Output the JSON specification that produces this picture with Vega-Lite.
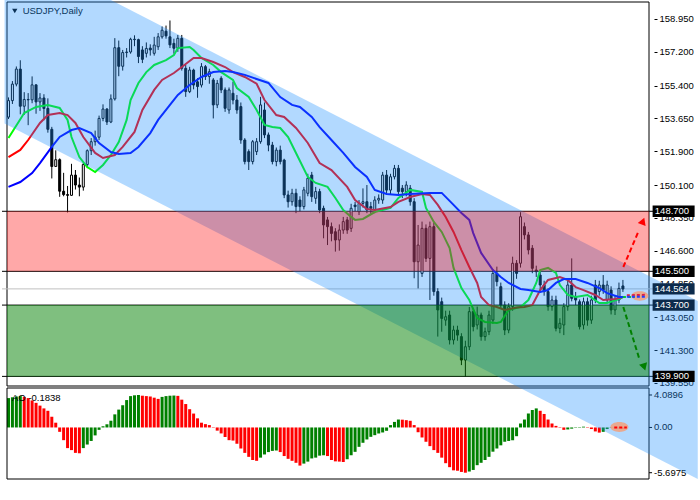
{
"$schema":"https://vega.github.io/schema/vega-lite/v6.json",
"width":652,"height":477,
"autosize":{"type":"none"},
"padding":{"left":2,"top":2,"right":46,"bottom":21},
"background":"white",
"config":{"view":{"stroke":null},"font":"Liberation Sans"},
"resolve":{"scale":{"y":"independent","color":"independent"}},
"datasets":{
"candles":[
{"i":0,"o":153.72,"h":154.77,"l":153.62,"c":154.60},
{"i":1,"o":154.60,"h":155.64,"l":154.42,"c":155.48},
{"i":2,"o":155.48,"h":156.42,"l":155.36,"c":156.28},
{"i":3,"o":156.28,"h":156.75,"l":153.87,"c":154.30},
{"i":4,"o":154.30,"h":155.05,"l":153.84,"c":154.66},
{"i":5,"o":154.66,"h":155.00,"l":153.29,"c":154.64},
{"i":6,"o":154.64,"h":155.89,"l":154.46,"c":155.44},
{"i":7,"o":155.44,"h":155.46,"l":153.90,"c":154.53},
{"i":8,"o":154.53,"h":155.00,"l":154.05,"c":154.74},
{"i":9,"o":154.74,"h":154.94,"l":153.55,"c":154.18},
{"i":10,"o":154.18,"h":154.72,"l":152.89,"c":153.07},
{"i":11,"o":153.07,"h":153.20,"l":150.45,"c":151.09},
{"i":12,"o":151.09,"h":151.95,"l":151.08,"c":151.45},
{"i":13,"o":151.45,"h":151.52,"l":149.47,"c":149.77},
{"i":14,"o":149.77,"h":150.75,"l":149.50,"c":149.59},
{"i":15,"o":149.59,"h":150.05,"l":148.64,"c":149.55},
{"i":16,"o":149.55,"h":151.23,"l":149.52,"c":150.63},
{"i":17,"o":150.63,"h":150.90,"l":149.86,"c":150.10},
{"i":18,"o":150.10,"h":150.50,"l":149.50,"c":149.99},
{"i":19,"o":149.99,"h":151.30,"l":149.80,"c":151.19},
{"i":20,"o":151.19,"h":152.00,"l":151.00,"c":151.93},
{"i":21,"o":151.93,"h":152.60,"l":151.70,"c":152.41},
{"i":22,"o":152.41,"h":153.00,"l":152.20,"c":152.65},
{"i":23,"o":152.65,"h":153.80,"l":152.50,"c":153.65},
{"i":24,"o":153.65,"h":154.40,"l":153.50,"c":154.15},
{"i":25,"o":154.15,"h":154.20,"l":153.30,"c":153.46},
{"i":26,"o":153.46,"h":154.93,"l":153.40,"c":154.69},
{"i":27,"o":154.69,"h":157.93,"l":154.60,"c":157.42},
{"i":28,"o":157.42,"h":157.80,"l":155.90,"c":156.43},
{"i":29,"o":156.43,"h":157.30,"l":156.20,"c":157.16},
{"i":30,"o":157.16,"h":157.40,"l":156.90,"c":157.19},
{"i":31,"o":157.19,"h":157.95,"l":157.10,"c":157.87},
{"i":32,"o":157.87,"h":158.08,"l":157.50,"c":157.85},
{"i":33,"o":157.85,"h":157.90,"l":156.60,"c":156.95},
{"i":34,"o":157.30,"h":157.50,"l":156.60,"c":156.80},
{"i":35,"o":157.12,"h":157.70,"l":156.90,"c":157.38},
{"i":36,"o":157.40,"h":157.60,"l":157.00,"c":157.30},
{"i":37,"o":157.12,"h":158.00,"l":157.00,"c":157.56},
{"i":38,"o":157.47,"h":158.20,"l":157.30,"c":158.00},
{"i":39,"o":158.00,"h":158.55,"l":157.90,"c":158.35},
{"i":40,"o":158.30,"h":158.60,"l":157.90,"c":158.05},
{"i":41,"o":158.00,"h":158.87,"l":157.40,"c":157.57},
{"i":42,"o":157.65,"h":157.90,"l":157.10,"c":157.39},
{"i":43,"o":157.39,"h":158.10,"l":157.20,"c":157.92},
{"i":44,"o":157.92,"h":158.10,"l":156.20,"c":156.32},
{"i":45,"o":156.32,"h":156.50,"l":154.80,"c":155.08},
{"i":46,"o":155.08,"h":156.40,"l":155.00,"c":156.23},
{"i":47,"o":156.23,"h":156.30,"l":155.20,"c":155.43},
{"i":48,"o":155.60,"h":155.80,"l":154.75,"c":155.35},
{"i":49,"o":155.43,"h":156.60,"l":155.30,"c":156.41},
{"i":50,"o":156.41,"h":156.50,"l":155.70,"c":155.88},
{"i":51,"o":155.88,"h":156.30,"l":155.50,"c":156.14},
{"i":52,"o":155.70,"h":155.80,"l":153.65,"c":154.37},
{"i":53,"o":154.37,"h":155.70,"l":154.20,"c":155.52},
{"i":54,"o":155.79,"h":155.90,"l":155.00,"c":155.17},
{"i":55,"o":155.17,"h":155.30,"l":154.00,"c":154.19},
{"i":56,"o":154.10,"h":155.30,"l":153.90,"c":155.17},
{"i":57,"o":154.99,"h":155.60,"l":154.40,"c":154.63},
{"i":58,"o":154.63,"h":154.90,"l":153.90,"c":154.10},
{"i":59,"o":154.28,"h":154.50,"l":152.30,"c":152.50},
{"i":60,"o":152.50,"h":152.60,"l":151.20,"c":151.35},
{"i":61,"o":151.88,"h":152.00,"l":150.90,"c":151.35},
{"i":62,"o":151.35,"h":152.50,"l":151.20,"c":152.41},
{"i":63,"o":151.88,"h":152.60,"l":151.70,"c":152.41},
{"i":64,"o":152.41,"h":154.80,"l":152.30,"c":154.37},
{"i":65,"o":154.10,"h":154.50,"l":152.60,"c":152.77},
{"i":66,"o":152.77,"h":152.90,"l":151.90,"c":152.23},
{"i":67,"o":152.23,"h":152.40,"l":151.20,"c":151.35},
{"i":68,"o":151.35,"h":152.10,"l":151.10,"c":151.96},
{"i":69,"o":151.96,"h":152.20,"l":151.20,"c":151.35},
{"i":70,"o":151.43,"h":151.50,"l":149.40,"c":149.57},
{"i":71,"o":149.57,"h":149.80,"l":148.90,"c":149.21},
{"i":72,"o":149.21,"h":149.90,"l":149.00,"c":149.66},
{"i":73,"o":149.66,"h":149.90,"l":148.60,"c":148.95},
{"i":74,"o":149.30,"h":149.50,"l":148.70,"c":148.95},
{"i":75,"o":148.95,"h":150.00,"l":148.80,"c":149.84},
{"i":76,"o":149.66,"h":150.70,"l":149.50,"c":150.46},
{"i":77,"o":150.63,"h":150.80,"l":149.20,"c":149.48},
{"i":78,"o":149.39,"h":150.00,"l":149.10,"c":149.75},
{"i":79,"o":149.75,"h":149.90,"l":148.60,"c":148.77},
{"i":80,"o":148.86,"h":149.00,"l":147.26,"c":147.97},
{"i":81,"o":148.24,"h":148.40,"l":146.90,"c":147.88},
{"i":82,"o":147.88,"h":148.10,"l":147.10,"c":147.52},
{"i":83,"o":147.61,"h":147.80,"l":146.55,"c":147.17},
{"i":84,"o":147.17,"h":148.00,"l":146.60,"c":147.70},
{"i":85,"o":147.70,"h":148.40,"l":147.50,"c":148.15},
{"i":86,"o":148.24,"h":148.40,"l":147.50,"c":147.70},
{"i":87,"o":147.79,"h":149.10,"l":147.60,"c":148.86},
{"i":88,"o":149.03,"h":149.20,"l":148.70,"c":148.95},
{"i":89,"o":148.68,"h":149.30,"l":148.50,"c":149.12},
{"i":90,"o":149.12,"h":149.92,"l":148.90,"c":149.21},
{"i":91,"o":149.21,"h":150.10,"l":148.60,"c":148.77},
{"i":92,"o":148.95,"h":149.20,"l":148.50,"c":148.86},
{"i":93,"o":148.77,"h":149.50,"l":148.60,"c":149.30},
{"i":94,"o":149.30,"h":149.60,"l":149.10,"c":149.39},
{"i":95,"o":149.30,"h":150.80,"l":149.10,"c":150.63},
{"i":96,"o":150.63,"h":150.90,"l":149.60,"c":149.83},
{"i":97,"o":149.83,"h":150.70,"l":149.60,"c":150.54},
{"i":98,"o":150.54,"h":151.17,"l":150.40,"c":150.99},
{"i":99,"o":150.99,"h":151.17,"l":149.60,"c":149.75},
{"i":100,"o":149.93,"h":150.10,"l":149.40,"c":149.75},
{"i":101,"o":149.75,"h":150.30,"l":149.50,"c":150.10},
{"i":102,"o":149.93,"h":150.10,"l":149.00,"c":149.21},
{"i":103,"o":149.21,"h":149.40,"l":145.13,"c":146.01},
{"i":104,"o":146.01,"h":147.97,"l":144.59,"c":146.90},
{"i":105,"o":145.39,"h":148.15,"l":145.20,"c":147.79},
{"i":106,"o":147.79,"h":148.00,"l":146.00,"c":146.19},
{"i":107,"o":146.19,"h":148.15,"l":143.97,"c":147.88},
{"i":108,"o":147.88,"h":148.10,"l":144.20,"c":144.42},
{"i":109,"o":144.42,"h":144.60,"l":142.02,"c":143.44},
{"i":110,"o":143.88,"h":144.10,"l":142.28,"c":142.99},
{"i":111,"o":142.90,"h":143.40,"l":142.60,"c":143.08},
{"i":112,"o":143.17,"h":143.40,"l":141.60,"c":141.84},
{"i":113,"o":141.84,"h":142.60,"l":141.60,"c":142.37},
{"i":114,"o":142.37,"h":142.60,"l":141.80,"c":142.10},
{"i":115,"o":142.02,"h":142.20,"l":140.50,"c":140.77},
{"i":116,"o":140.77,"h":141.80,"l":139.89,"c":141.48},
{"i":117,"o":141.48,"h":143.60,"l":141.30,"c":143.35},
{"i":118,"o":143.35,"h":143.50,"l":142.30,"c":142.55},
{"i":119,"o":142.64,"h":143.62,"l":142.40,"c":143.17},
{"i":120,"o":143.17,"h":143.30,"l":141.80,"c":142.02},
{"i":121,"o":142.02,"h":142.50,"l":141.80,"c":142.28},
{"i":122,"o":142.28,"h":143.40,"l":142.10,"c":143.17},
{"i":123,"o":142.90,"h":145.60,"l":142.70,"c":145.39},
{"i":124,"o":145.39,"h":145.75,"l":144.70,"c":144.95},
{"i":125,"o":144.68,"h":144.90,"l":143.50,"c":143.70},
{"i":126,"o":143.70,"h":143.90,"l":142.10,"c":142.37},
{"i":127,"o":142.37,"h":143.80,"l":142.20,"c":143.62},
{"i":128,"o":143.62,"h":146.28,"l":143.40,"c":145.93},
{"i":129,"o":145.93,"h":146.10,"l":145.10,"c":145.39},
{"i":130,"o":145.93,"h":148.65,"l":145.70,"c":148.41},
{"i":131,"o":147.88,"h":148.10,"l":147.20,"c":147.44},
{"i":132,"o":147.44,"h":147.60,"l":146.40,"c":146.64},
{"i":133,"o":146.73,"h":146.90,"l":145.40,"c":145.66},
{"i":134,"o":145.57,"h":145.80,"l":145.20,"c":145.48},
{"i":135,"o":145.30,"h":145.50,"l":144.50,"c":144.77},
{"i":136,"o":144.77,"h":145.00,"l":144.20,"c":144.42},
{"i":137,"o":144.42,"h":144.60,"l":143.40,"c":143.62},
{"i":138,"o":143.62,"h":144.20,"l":143.40,"c":143.97},
{"i":139,"o":143.97,"h":144.20,"l":142.30,"c":142.46},
{"i":140,"o":142.46,"h":143.00,"l":142.20,"c":142.73},
{"i":141,"o":142.64,"h":143.80,"l":142.10,"c":143.62},
{"i":142,"o":143.62,"h":145.00,"l":143.40,"c":144.77},
{"i":143,"o":144.77,"h":146.19,"l":143.90,"c":144.06},
{"i":144,"o":144.15,"h":144.40,"l":143.70,"c":143.97},
{"i":145,"o":143.88,"h":144.00,"l":142.40,"c":142.55},
{"i":146,"o":142.64,"h":144.10,"l":142.40,"c":143.88},
{"i":147,"o":143.88,"h":144.10,"l":142.60,"c":142.90},
{"i":148,"o":142.90,"h":144.20,"l":142.70,"c":143.97},
{"i":149,"o":144.77,"h":145.04,"l":143.80,"c":143.97},
{"i":150,"o":144.42,"h":145.00,"l":144.20,"c":144.77},
{"i":151,"o":144.77,"h":145.30,"l":144.30,"c":144.50},
{"i":152,"o":143.97,"h":145.00,"l":143.80,"c":144.77},
{"i":153,"o":144.50,"h":144.70,"l":143.20,"c":143.44},
{"i":154,"o":143.44,"h":144.20,"l":143.17,"c":143.97},
{"i":155,"o":143.97,"h":144.90,"l":143.80,"c":144.59},
{"i":156,"o":144.72,"h":145.04,"l":144.40,"c":144.56}
],
"ma":[
{"ma":"fast","i":0,"p":152.61},{"ma":"fast","i":4,"p":153.94},{"ma":"fast","i":7,"p":154.26},{"ma":"fast","i":10,"p":154.37},{"ma":"fast","i":13,"p":154.21},{"ma":"fast","i":15,"p":153.57},{"ma":"fast","i":16,"p":152.66},{"ma":"fast","i":18,"p":151.59},{"ma":"fast","i":20,"p":151.06},{"ma":"fast","i":22,"p":150.79},{"ma":"fast","i":24,"p":151.17},{"ma":"fast","i":26,"p":151.70},{"ma":"fast","i":28,"p":152.39},{"ma":"fast","i":30,"p":153.57},{"ma":"fast","i":31,"p":154.63},{"ma":"fast","i":33,"p":155.54},{"ma":"fast","i":35,"p":156.12},{"ma":"fast","i":37,"p":156.50},{"ma":"fast","i":40,"p":156.76},{"ma":"fast","i":42,"p":157.03},{"ma":"fast","i":43,"p":157.40},{"ma":"fast","i":46,"p":157.46},{"ma":"fast","i":47,"p":157.30},{"ma":"fast","i":49,"p":156.87},{"ma":"fast","i":52,"p":156.50},{"ma":"fast","i":54,"p":156.12},{"ma":"fast","i":57,"p":155.70},{"ma":"fast","i":58,"p":155.27},{"ma":"fast","i":61,"p":154.79},{"ma":"fast","i":63,"p":154.10},{"ma":"fast","i":65,"p":153.30},{"ma":"fast","i":67,"p":153.19},{"ma":"fast","i":69,"p":153.14},{"ma":"fast","i":71,"p":152.66},{"ma":"fast","i":73,"p":151.81},{"ma":"fast","i":76,"p":150.53},{"ma":"fast","i":78,"p":150.21},{"ma":"fast","i":81,"p":150.00},{"ma":"fast","i":83,"p":149.41},{"ma":"fast","i":85,"p":148.77},{"ma":"fast","i":87,"p":148.40},{"ma":"fast","i":88,"p":148.24},{"ma":"fast","i":90,"p":148.29},{"ma":"fast","i":93,"p":148.66},{"ma":"fast","i":97,"p":148.88},{"ma":"fast","i":99,"p":149.41},{"ma":"fast","i":102,"p":149.84},{"ma":"fast","i":105,"p":149.73},{"ma":"fast","i":106,"p":148.88},{"ma":"fast","i":108,"p":148.13},{"ma":"fast","i":110,"p":147.60},{"ma":"fast","i":112,"p":146.74},{"ma":"fast","i":113,"p":145.68},{"ma":"fast","i":115,"p":144.61},{"ma":"fast","i":117,"p":143.97},{"ma":"fast","i":119,"p":143.01},{"ma":"fast","i":121,"p":142.80},{"ma":"fast","i":124,"p":142.75},{"ma":"fast","i":125,"p":142.80},{"ma":"fast","i":127,"p":143.44},{"ma":"fast","i":130,"p":143.60},{"ma":"fast","i":132,"p":143.97},{"ma":"fast","i":134,"p":144.88},{"ma":"fast","i":135,"p":145.57},{"ma":"fast","i":137,"p":145.68},{"ma":"fast","i":139,"p":145.41},{"ma":"fast","i":140,"p":144.77},{"ma":"fast","i":142,"p":144.24},{"ma":"fast","i":144,"p":144.13},{"ma":"fast","i":147,"p":144.24},{"ma":"fast","i":150,"p":143.81},{"ma":"fast","i":152,"p":143.81},{"ma":"fast","i":155,"p":144.02},{"ma":"fast","i":156,"p":144.13},
{"ma":"medium","i":0,"p":151.59},{"ma":"medium","i":3,"p":151.97},{"ma":"medium","i":5,"p":152.50},{"ma":"medium","i":8,"p":153.41},{"ma":"medium","i":10,"p":153.83},{"ma":"medium","i":13,"p":153.94},{"ma":"medium","i":15,"p":153.83},{"ma":"medium","i":17,"p":153.41},{"ma":"medium","i":19,"p":152.66},{"ma":"medium","i":22,"p":151.81},{"ma":"medium","i":24,"p":151.54},{"ma":"medium","i":27,"p":151.70},{"ma":"medium","i":29,"p":152.13},{"ma":"medium","i":32,"p":152.93},{"ma":"medium","i":34,"p":154.10},{"ma":"medium","i":37,"p":155.17},{"ma":"medium","i":39,"p":155.70},{"ma":"medium","i":42,"p":156.07},{"ma":"medium","i":44,"p":156.39},{"ma":"medium","i":47,"p":156.87},{"ma":"medium","i":49,"p":156.87},{"ma":"medium","i":52,"p":156.66},{"ma":"medium","i":55,"p":156.39},{"ma":"medium","i":57,"p":156.12},{"ma":"medium","i":60,"p":155.86},{"ma":"medium","i":63,"p":155.50},{"ma":"medium","i":65,"p":154.63},{"ma":"medium","i":68,"p":153.83},{"ma":"medium","i":70,"p":153.73},{"ma":"medium","i":73,"p":153.14},{"ma":"medium","i":76,"p":152.34},{"ma":"medium","i":79,"p":151.27},{"ma":"medium","i":82,"p":150.90},{"ma":"medium","i":86,"p":150.00},{"ma":"medium","i":88,"p":149.30},{"ma":"medium","i":91,"p":148.82},{"ma":"medium","i":93,"p":148.77},{"ma":"medium","i":97,"p":148.93},{"ma":"medium","i":99,"p":149.20},{"ma":"medium","i":102,"p":149.46},{"ma":"medium","i":105,"p":149.62},{"ma":"medium","i":107,"p":149.57},{"ma":"medium","i":109,"p":149.04},{"ma":"medium","i":111,"p":148.40},{"ma":"medium","i":113,"p":147.60},{"ma":"medium","i":115,"p":146.63},{"ma":"medium","i":117,"p":145.73},{"ma":"medium","i":119,"p":144.88},{"ma":"medium","i":120,"p":144.13},{"ma":"medium","i":122,"p":143.70},{"ma":"medium","i":124,"p":143.60},{"ma":"medium","i":126,"p":143.44},{"ma":"medium","i":129,"p":143.57},{"ma":"medium","i":131,"p":143.60},{"ma":"medium","i":133,"p":143.70},{"ma":"medium","i":135,"p":144.50},{"ma":"medium","i":137,"p":145.04},{"ma":"medium","i":140,"p":145.20},{"ma":"medium","i":142,"p":145.04},{"ma":"medium","i":144,"p":144.66},{"ma":"medium","i":146,"p":144.50},{"ma":"medium","i":149,"p":144.24},{"ma":"medium","i":151,"p":143.97},{"ma":"medium","i":154,"p":144.02},{"ma":"medium","i":156,"p":144.13},
{"ma":"slow","i":0,"p":150.00},{"ma":"slow","i":3,"p":150.26},{"ma":"slow","i":6,"p":150.74},{"ma":"slow","i":8,"p":151.27},{"ma":"slow","i":11,"p":152.13},{"ma":"slow","i":13,"p":152.66},{"ma":"slow","i":16,"p":153.03},{"ma":"slow","i":18,"p":153.14},{"ma":"slow","i":21,"p":152.87},{"ma":"slow","i":23,"p":152.34},{"ma":"slow","i":26,"p":151.86},{"ma":"slow","i":28,"p":151.75},{"ma":"slow","i":31,"p":151.81},{"ma":"slow","i":33,"p":152.13},{"ma":"slow","i":36,"p":152.87},{"ma":"slow","i":38,"p":153.57},{"ma":"slow","i":41,"p":154.37},{"ma":"slow","i":43,"p":154.90},{"ma":"slow","i":46,"p":155.43},{"ma":"slow","i":49,"p":155.86},{"ma":"slow","i":52,"p":156.12},{"ma":"slow","i":55,"p":156.18},{"ma":"slow","i":57,"p":156.12},{"ma":"slow","i":60,"p":155.97},{"ma":"slow","i":63,"p":155.75},{"ma":"slow","i":66,"p":155.54},{"ma":"slow","i":69,"p":154.79},{"ma":"slow","i":72,"p":154.37},{"ma":"slow","i":74,"p":154.26},{"ma":"slow","i":77,"p":153.73},{"ma":"slow","i":79,"p":153.19},{"ma":"slow","i":82,"p":152.50},{"ma":"slow","i":85,"p":151.81},{"ma":"slow","i":88,"p":151.06},{"ma":"slow","i":91,"p":150.53},{"ma":"slow","i":93,"p":149.84},{"ma":"slow","i":96,"p":149.62},{"ma":"slow","i":99,"p":149.57},{"ma":"slow","i":102,"p":149.62},{"ma":"slow","i":107,"p":149.68},{"ma":"slow","i":110,"p":149.68},{"ma":"slow","i":113,"p":149.04},{"ma":"slow","i":115,"p":148.61},{"ma":"slow","i":117,"p":148.24},{"ma":"slow","i":118,"p":147.54},{"ma":"slow","i":120,"p":146.48},{"ma":"slow","i":123,"p":145.57},{"ma":"slow","i":125,"p":145.20},{"ma":"slow","i":127,"p":144.88},{"ma":"slow","i":130,"p":144.56},{"ma":"slow","i":132,"p":144.50},{"ma":"slow","i":135,"p":144.40},{"ma":"slow","i":137,"p":144.50},{"ma":"slow","i":139,"p":144.88},{"ma":"slow","i":141,"p":145.09},{"ma":"slow","i":144,"p":145.09},{"ma":"slow","i":147,"p":144.88},{"ma":"slow","i":150,"p":144.61},{"ma":"slow","i":152,"p":144.34},{"ma":"slow","i":155,"p":144.13},{"ma":"slow","i":156,"p":144.13}
],
"ao":[
{"i":0,"v":3.70,"d":"up"},{"i":1,"v":3.80,"d":"up"},{"i":2,"v":3.90,"d":"up"},{"i":3,"v":3.95,"d":"up"},{"i":4,"v":3.85,"d":"down"},{"i":5,"v":3.70,"d":"down"},{"i":6,"v":3.40,"d":"down"},{"i":7,"v":3.10,"d":"down"},{"i":8,"v":2.75,"d":"down"},{"i":9,"v":2.40,"d":"down"},{"i":10,"v":2.10,"d":"down"},{"i":11,"v":1.35,"d":"down"},{"i":12,"v":0.60,"d":"down"},{"i":13,"v":-0.55,"d":"down"},{"i":14,"v":-1.60,"d":"down"},{"i":15,"v":-2.60,"d":"down"},{"i":16,"v":-2.85,"d":"down"},{"i":17,"v":-3.20,"d":"down"},{"i":18,"v":-3.25,"d":"down"},{"i":19,"v":-2.60,"d":"up"},{"i":20,"v":-2.15,"d":"up"},{"i":21,"v":-1.70,"d":"up"},{"i":22,"v":-1.00,"d":"up"},{"i":23,"v":-0.30,"d":"up"},{"i":24,"v":0.15,"d":"up"},{"i":25,"v":0.40,"d":"up"},{"i":26,"v":0.85,"d":"up"},{"i":27,"v":1.65,"d":"up"},{"i":28,"v":2.25,"d":"up"},{"i":29,"v":2.80,"d":"up"},{"i":30,"v":3.45,"d":"up"},{"i":31,"v":3.95,"d":"up"},{"i":32,"v":4.05,"d":"up"},{"i":33,"v":4.0896,"d":"up"},{"i":34,"v":4.00,"d":"down"},{"i":35,"v":3.95,"d":"down"},{"i":36,"v":3.90,"d":"down"},{"i":37,"v":3.75,"d":"down"},{"i":38,"v":3.60,"d":"down"},{"i":39,"v":3.85,"d":"up"},{"i":40,"v":3.95,"d":"up"},{"i":41,"v":4.00,"d":"up"},{"i":42,"v":4.02,"d":"up"},{"i":43,"v":3.98,"d":"down"},{"i":44,"v":3.50,"d":"down"},{"i":45,"v":2.95,"d":"down"},{"i":46,"v":2.30,"d":"down"},{"i":47,"v":1.75,"d":"down"},{"i":48,"v":1.15,"d":"down"},{"i":49,"v":0.60,"d":"down"},{"i":50,"v":0.42,"d":"down"},{"i":51,"v":0.30,"d":"down"},{"i":52,"v":-0.05,"d":"down"},{"i":53,"v":-0.40,"d":"down"},{"i":54,"v":-0.75,"d":"down"},{"i":55,"v":-1.20,"d":"down"},{"i":56,"v":-1.60,"d":"down"},{"i":57,"v":-1.65,"d":"down"},{"i":58,"v":-2.05,"d":"down"},{"i":59,"v":-2.65,"d":"down"},{"i":60,"v":-3.20,"d":"down"},{"i":61,"v":-3.70,"d":"down"},{"i":62,"v":-4.10,"d":"down"},{"i":63,"v":-4.20,"d":"down"},{"i":64,"v":-3.80,"d":"up"},{"i":65,"v":-3.40,"d":"up"},{"i":66,"v":-3.10,"d":"up"},{"i":67,"v":-2.95,"d":"up"},{"i":68,"v":-2.90,"d":"up"},{"i":69,"v":-3.10,"d":"down"},{"i":70,"v":-3.60,"d":"down"},{"i":71,"v":-3.95,"d":"down"},{"i":72,"v":-4.20,"d":"down"},{"i":73,"v":-4.45,"d":"down"},{"i":74,"v":-4.80,"d":"down"},{"i":75,"v":-4.55,"d":"up"},{"i":76,"v":-4.30,"d":"up"},{"i":77,"v":-3.90,"d":"up"},{"i":78,"v":-3.80,"d":"up"},{"i":79,"v":-3.55,"d":"up"},{"i":80,"v":-3.50,"d":"up"},{"i":81,"v":-3.60,"d":"down"},{"i":82,"v":-4.10,"d":"down"},{"i":83,"v":-4.27,"d":"down"},{"i":84,"v":-4.30,"d":"down"},{"i":85,"v":-4.35,"d":"down"},{"i":86,"v":-4.00,"d":"up"},{"i":87,"v":-3.50,"d":"up"},{"i":88,"v":-3.07,"d":"up"},{"i":89,"v":-2.44,"d":"up"},{"i":90,"v":-1.93,"d":"up"},{"i":91,"v":-1.51,"d":"up"},{"i":92,"v":-1.18,"d":"up"},{"i":93,"v":-0.97,"d":"up"},{"i":94,"v":-0.76,"d":"up"},{"i":95,"v":-0.63,"d":"up"},{"i":96,"v":-0.42,"d":"up"},{"i":97,"v":0.30,"d":"up"},{"i":98,"v":0.70,"d":"up"},{"i":99,"v":1.00,"d":"up"},{"i":100,"v":0.98,"d":"down"},{"i":101,"v":0.92,"d":"down"},{"i":102,"v":0.84,"d":"down"},{"i":103,"v":0.30,"d":"down"},{"i":104,"v":-0.60,"d":"down"},{"i":105,"v":-1.26,"d":"down"},{"i":106,"v":-1.80,"d":"down"},{"i":107,"v":-2.35,"d":"down"},{"i":108,"v":-2.85,"d":"down"},{"i":109,"v":-3.20,"d":"down"},{"i":110,"v":-3.80,"d":"down"},{"i":111,"v":-4.50,"d":"down"},{"i":112,"v":-5.00,"d":"down"},{"i":113,"v":-5.40,"d":"down"},{"i":114,"v":-5.45,"d":"down"},{"i":115,"v":-5.60,"d":"down"},{"i":116,"v":-5.6975,"d":"down"},{"i":117,"v":-5.55,"d":"up"},{"i":118,"v":-5.35,"d":"up"},{"i":119,"v":-4.75,"d":"up"},{"i":120,"v":-4.45,"d":"up"},{"i":121,"v":-4.10,"d":"up"},{"i":122,"v":-3.70,"d":"up"},{"i":123,"v":-3.05,"d":"up"},{"i":124,"v":-2.65,"d":"up"},{"i":125,"v":-2.25,"d":"up"},{"i":126,"v":-1.80,"d":"up"},{"i":127,"v":-1.70,"d":"up"},{"i":128,"v":-1.60,"d":"up"},{"i":129,"v":-1.10,"d":"up"},{"i":130,"v":0.50,"d":"up"},{"i":131,"v":1.00,"d":"up"},{"i":132,"v":1.76,"d":"up"},{"i":133,"v":2.20,"d":"up"},{"i":134,"v":2.40,"d":"up"},{"i":135,"v":2.10,"d":"down"},{"i":136,"v":1.70,"d":"down"},{"i":137,"v":1.00,"d":"down"},{"i":138,"v":0.50,"d":"down"},{"i":139,"v":0.20,"d":"down"},{"i":140,"v":-0.05,"d":"down"},{"i":141,"v":-0.30,"d":"down"},{"i":142,"v":-0.25,"d":"up"},{"i":143,"v":-0.15,"d":"up"},{"i":144,"v":-0.05,"d":"up"},{"i":145,"v":0.05,"d":"up"},{"i":146,"v":0.10,"d":"up"},{"i":147,"v":0.05,"d":"down"},{"i":148,"v":-0.20,"d":"down"},{"i":149,"v":-0.50,"d":"down"},{"i":150,"v":-0.65,"d":"down"},{"i":151,"v":-0.55,"d":"up"},{"i":152,"v":-0.20,"d":"up"},{"i":153,"v":-0.05,"d":"up"},{"i":154,"v":-0.10,"d":"down"},{"i":155,"v":-0.15,"d":"down"},{"i":156,"v":-0.18,"d":"down"}
],
"aoaxis":[{"v":4.0896,"t":"4.0896"},{"v":0,"t":"0.00"},{"v":-5.6975,"t":"-5.6975"}],
"zones":[{"z":"sell","lo":145.5,"hi":148.7},{"z":"buy","lo":139.9,"hi":143.7}],
"last":[{"p":144.564}],
"band":[{"i":-1,"top":162.87,"bot":153.38},{"i":175,"top":143.92,"bot":134.43}],
"projma":[{"ma":"fast","i":156,"p":144.13},{"ma":"fast","i":159,"p":144.13},{"ma":"medium","i":157,"p":144.22},{"ma":"medium","i":162,"p":144.25},{"ma":"slow","i":157,"p":144.15},{"ma":"slow","i":162,"p":144.15}],
"aodash":[{"i":153.8,"v":0},{"i":157,"v":0}],
"arrows":[{"dir":"up","part":"line","i":156.1,"p":145.73},{"dir":"up","part":"line","i":160.1,"p":147.70},{"dir":"down","part":"line","i":156.1,"p":143.60},{"dir":"down","part":"line","i":160.1,"p":140.88},{"dir":"up","part":"head","i":161.1,"p":148.18},{"dir":"down","part":"head","i":161.4,"p":140.40}],
"labels":[{"p":148.7,"t":"148.700","k":"level"},{"p":145.5,"t":"145.500","k":"level"},{"p":144.564,"t":"144.564","k":"price"},{"p":143.7,"t":"143.700","k":"price"},{"p":139.9,"t":"139.900","k":"level"}]
},
"layer":[
{"data":{"name":"ao"},"mark":{"type":"bar","size":3,"orient":"vertical"},
 "encoding":{"x":{"field":"i","type":"quantitative","scale":{"domain":[-0.375,162.625]},
   "axis":{"values":[0,16,32,48,64,80,96,112,128,144],"labelExpr":"['12 Nov 2024','4 Dec 2024','27 Dec 2024','21 Jan 2025','12 Feb 2025','6 Mar 2025','25 Mar 2025','16 Apr 2025','8 May 2025','30 May 2025'][round(datum.value/16)]","title":null,"domain":false,"grid":false,"tickSize":3,"tickColor":"black","labelColor":"black","labelFont":"Liberation Sans","labelFontSize":9.5,"labelAlign":"left","labelBaseline":"top","labelPadding":2,"labelOverlap":false,"labelFlush":false}},
  "y":{"field":"v","type":"quantitative","scale":{"domain":[-6.49,4.97],"range":[477,386]},"axis":null},
  "y2":{"datum":0},
  "color":{"condition":{"test":"datum.d=='up'","value":"#008000"},"value":"#ff0000"}}},
{"data":{"values":[{"t":"AO -0.1838"}]},"mark":{"type":"text","align":"left","baseline":"middle","fontSize":9.5,"font":"Liberation Sans","color":"black"},
 "encoding":{"x":{"datum":0.9,"type":"quantitative","scale":{"domain":[-0.375,162.625]},"axis":null},
  "y":{"datum":3.77,"type":"quantitative","scale":{"domain":[-6.49,4.97],"range":[477,386]},"axis":null},
  "text":{"field":"t"}}},
{"data":{"name":"aoaxis"},"mark":{"type":"text","align":"left","baseline":"middle","fontSize":9.5,"font":"Liberation Sans","color":"black"},
 "encoding":{"x":{"datum":163.9,"type":"quantitative","scale":{"domain":[-0.375,162.625]},"axis":null},
  "y":{"field":"v","type":"quantitative","scale":{"domain":[-6.49,4.97],"range":[477,386]},"axis":null},
  "text":{"field":"t"}}},
{"data":{"name":"aoaxis"},"mark":{"type":"rule","color":"black","strokeWidth":1},
 "encoding":{"x":{"datum":162.625,"type":"quantitative","scale":{"domain":[-0.375,162.625]},"axis":null},"x2":{"datum":163.4},
  "y":{"field":"v","type":"quantitative","scale":{"domain":[-6.49,4.97],"range":[477,386]},"axis":null}}},
{"data":{"values":[{}]},"mark":{"type":"rect","fillOpacity":0,"stroke":"black","strokeWidth":1},
 "encoding":{"x":{"datum":-0.375,"type":"quantitative","scale":{"domain":[-0.375,162.625]},"axis":null},"x2":{"datum":162.625},
  "y":{"datum":139.387,"type":"quantitative","scale":{"domain":[139.387,159.856],"range":[384,0]},"axis":null},"y2":{"datum":159.856}}},
{"data":{"values":[{}]},"mark":{"type":"rect","fillOpacity":0,"stroke":"black","strokeWidth":1},
 "encoding":{"x":{"datum":-0.375,"type":"quantitative","scale":{"domain":[-0.375,162.625]},"axis":null},"x2":{"datum":162.625},
  "y":{"datum":-6.49,"type":"quantitative","scale":{"domain":[-6.49,4.97],"range":[477,386]},"axis":null},"y2":{"datum":4.97}}},
{"data":{"name":"last"},"mark":{"type":"rule","color":"#c0c0c0","strokeWidth":1},
 "encoding":{"y":{"field":"p","type":"quantitative","scale":{"domain":[139.387,159.856],"range":[384,0]},"axis":null}}},
{"data":{"name":"zones"},"mark":{"type":"rule","color":"black","strokeWidth":1},
 "encoding":{"y":{"field":"lo","type":"quantitative","scale":{"domain":[139.387,159.856],"range":[384,0]},"axis":null}}},
{"data":{"name":"zones"},"mark":{"type":"rule","color":"black","strokeWidth":1},
 "encoding":{"y":{"field":"hi","type":"quantitative","scale":{"domain":[139.387,159.856],"range":[384,0]},"axis":null}}},
{"data":{"name":"candles"},"mark":{"type":"rule","color":"black","strokeWidth":1},
 "encoding":{"x":{"field":"i","type":"quantitative","scale":{"domain":[-0.375,162.625]},"axis":null},
  "y":{"field":"l","type":"quantitative","scale":{"domain":[139.387,159.856],"range":[384,0]},
   "axis":{"orient":"right","values":[158.95,157.2,155.4,153.65,151.9,150.1,148.35,146.6,144.85,143.05,141.3,139.55],"format":".3f","title":null,"domain":false,"grid":false,"tickSize":3,"tickColor":"black","labelColor":"black","labelFont":"Liberation Sans","labelFontSize":9.5,"labelPadding":2,"labelOverlap":false,"labelFlush":false,"labelBaseline":"middle"}},
  "y2":{"field":"h"}}},
{"data":{"name":"candles"},"mark":{"type":"bar","size":2,"orient":"vertical","stroke":"black","strokeWidth":1},
 "encoding":{"x":{"field":"i","type":"quantitative","scale":{"domain":[-0.375,162.625]},"axis":null},
  "y":{"field":"o","type":"quantitative","scale":{"domain":[139.387,159.856],"range":[384,0]},"axis":null},
  "y2":{"field":"c"},
  "fill":{"condition":{"test":"datum.c >= datum.o","value":"white"},"value":"black"}}},
{"data":{"name":"ma"},"mark":{"type":"line","strokeWidth":2},
 "encoding":{"x":{"field":"i","type":"quantitative","scale":{"domain":[-0.375,162.625]},"axis":null},
  "y":{"field":"p","type":"quantitative","scale":{"domain":[139.387,159.856],"range":[384,0]},"axis":null},
  "color":{"field":"ma","type":"nominal","scale":{"domain":["fast","medium","slow"],"range":["#00ff00","#ff0000","#0000ff"]},"legend":null}}},
{"data":{"values":[{"t":"USDJPY,Daily"}]},"mark":{"type":"text","align":"left","baseline":"middle","fontSize":9.5,"font":"Liberation Sans","color":"black"},
 "encoding":{"x":{"datum":3.6,"type":"quantitative","scale":{"domain":[-0.375,162.625]},"axis":null},
  "y":{"datum":159.38,"type":"quantitative","scale":{"domain":[139.387,159.856],"range":[384,0]},"axis":null},
  "text":{"field":"t"}}},
{"data":{"values":[{}]},"mark":{"type":"point","shape":"triangle-down","filled":true,"size":28,"color":"black","opacity":1},
 "encoding":{"x":{"datum":1.6,"type":"quantitative","scale":{"domain":[-0.375,162.625]},"axis":null},
  "y":{"datum":159.38,"type":"quantitative","scale":{"domain":[139.387,159.856],"range":[384,0]},"axis":null}}},
{"data":{"name":"band"},"mark":{"type":"area","color":"#1e90ff","opacity":0.34,"orient":"vertical"},
 "encoding":{"x":{"field":"i","type":"quantitative","scale":{"domain":[-0.375,162.625]},"axis":null},
  "y":{"field":"top","type":"quantitative","scale":{"domain":[139.387,159.856],"range":[384,0]},"axis":null},
  "y2":{"field":"bot"}}},
{"data":{"name":"zones"},"mark":{"type":"rect"},
 "encoding":{"x":{"datum":-0.375,"type":"quantitative","scale":{"domain":[-0.375,162.625]},"axis":null},"x2":{"datum":162.625},
  "y":{"field":"lo","type":"quantitative","scale":{"domain":[139.387,159.856],"range":[384,0]},"axis":null},"y2":{"field":"hi"},
  "fill":{"condition":{"test":"datum.z=='sell'","value":"#ff0000"},"value":"#008000"},
  "opacity":{"condition":{"test":"datum.z=='sell'","value":0.34},"value":0.5}}},
{"data":{"values":[{}]},"mark":{"type":"point","shape":"M-1,0A1,0.55 0 1,0 1,0A1,0.55 0 1,0 -1,0Z","filled":true,"size":289,"color":"#f2a07c","opacity":0.85},
 "encoding":{"x":{"datum":160.3,"type":"quantitative","scale":{"domain":[-0.375,162.625]},"axis":null},
  "y":{"datum":144.185,"type":"quantitative","scale":{"domain":[139.387,159.856],"range":[384,0]},"axis":null}}},
{"data":{"values":[{}]},"mark":{"type":"point","shape":"M-1,0A1,0.55 0 1,0 1,0A1,0.55 0 1,0 -1,0Z","filled":true,"size":324,"color":"#f2a07c","opacity":0.85},
 "encoding":{"x":{"datum":155.1,"type":"quantitative","scale":{"domain":[-0.375,162.625]},"axis":null},
  "y":{"datum":0.05,"type":"quantitative","scale":{"domain":[-6.49,4.97],"range":[477,386]},"axis":null}}},
{"data":{"name":"projma"},"mark":{"type":"line","strokeWidth":2,"strokeDash":[3,2]},
 "encoding":{"x":{"field":"i","type":"quantitative","scale":{"domain":[-0.375,162.625]},"axis":null},
  "y":{"field":"p","type":"quantitative","scale":{"domain":[139.387,159.856],"range":[384,0]},"axis":null},
  "color":{"field":"ma","type":"nominal","scale":{"domain":["fast","medium","slow"],"range":["#00c040","#e02040","#2040ff"]},"legend":null}}},
{"data":{"name":"aodash"},"mark":{"type":"line","strokeWidth":2,"strokeDash":[3,2],"color":"#ff0000"},
 "encoding":{"x":{"field":"i","type":"quantitative","scale":{"domain":[-0.375,162.625]},"axis":null},
  "y":{"field":"v","type":"quantitative","scale":{"domain":[-6.49,4.97],"range":[477,386]},"axis":null}}},
{"data":{"name":"arrows"},"transform":[{"filter":"datum.part=='line'"}],"mark":{"type":"line","strokeWidth":2,"strokeDash":[5,3]},
 "encoding":{"x":{"field":"i","type":"quantitative","scale":{"domain":[-0.375,162.625]},"axis":null},
  "y":{"field":"p","type":"quantitative","scale":{"domain":[139.387,159.856],"range":[384,0]},"axis":null},
  "detail":{"field":"dir"},
  "color":{"condition":{"test":"datum.dir=='up'","value":"#ff0000"},"value":"#008000"}}},
{"data":{"name":"arrows"},"transform":[{"filter":"datum.part=='head' && datum.dir=='up'"}],"mark":{"type":"point","shape":"triangle-up","filled":true,"size":70,"angle":21,"color":"#ff0000","opacity":1},
 "encoding":{"x":{"field":"i","type":"quantitative","scale":{"domain":[-0.375,162.625]},"axis":null},
  "y":{"field":"p","type":"quantitative","scale":{"domain":[139.387,159.856],"range":[384,0]},"axis":null}}},
{"data":{"name":"arrows"},"transform":[{"filter":"datum.part=='head' && datum.dir=='down'"}],"mark":{"type":"point","shape":"triangle-up","filled":true,"size":70,"angle":162,"color":"#008000","opacity":1},
 "encoding":{"x":{"field":"i","type":"quantitative","scale":{"domain":[-0.375,162.625]},"axis":null},
  "y":{"field":"p","type":"quantitative","scale":{"domain":[139.387,159.856],"range":[384,0]},"axis":null}}},
{"data":{"name":"labels"},"mark":{"type":"point","shape":"M-1,-0.27L1,-0.27L1,0.27L-1,0.27Z","filled":true,"size":1764,"opacity":1},
 "encoding":{"x":{"datum":168.875,"type":"quantitative","scale":{"domain":[-0.375,162.625]},"axis":null},
  "y":{"field":"p","type":"quantitative","scale":{"domain":[139.387,159.856],"range":[384,0]},"axis":null},
  "color":{"condition":{"test":"datum.k=='price'","value":"#0c2b4c"},"value":"#000000"}}},
{"data":{"name":"labels"},"mark":{"type":"text","align":"left","baseline":"middle","fontSize":9.5,"font":"Liberation Sans","color":"white"},
 "encoding":{"x":{"datum":164.1,"type":"quantitative","scale":{"domain":[-0.375,162.625]},"axis":null},
  "y":{"field":"p","type":"quantitative","scale":{"domain":[139.387,159.856],"range":[384,0]},"axis":null},
  "text":{"field":"t"}}}
]
}
